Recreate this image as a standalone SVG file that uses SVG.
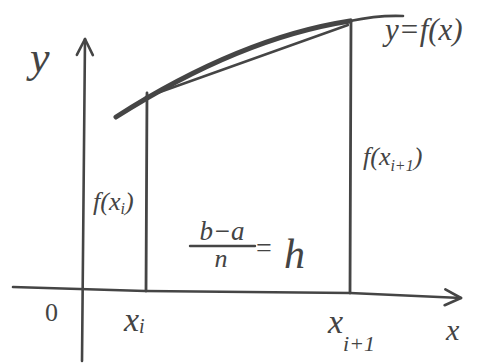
<svg xmlns="http://www.w3.org/2000/svg" width="479" height="363" viewBox="0 0 479 363">
<defs>
<style>
.ln{fill:none;stroke:#454545;stroke-linecap:round;stroke-linejoin:round}
.ax{stroke-width:2.6}
.v{stroke-width:2.8}
.cv{stroke-width:5}
.ch{stroke-width:2.4}
.t{font-family:"Liberation Serif","DejaVu Serif",serif;font-style:italic;fill:#444}
.n{font-family:"Liberation Serif","DejaVu Serif",serif;fill:#444}
</style>
<marker id="arr" viewBox="0 0 20 20" refX="18" refY="10" markerWidth="20" markerHeight="20" markerUnits="userSpaceOnUse" orient="auto">
<path d="M2,2 L18,10 L2,18" fill="none" stroke="#454545" stroke-width="2.6" stroke-linecap="round" stroke-linejoin="round"/>
</marker>
</defs>
<rect width="479" height="363" fill="#ffffff"/>
<g id="axes">
<path class="ln ax" d="M82,361 L85,39" marker-end="url(#arr)"/>
<path class="ln ax" d="M13,287 L145,291 L350,293 L461,298" marker-end="url(#arr)"/>
</g>
<g id="curve">
<path class="ln cv" d="M116,117 Q240,38 350,21"/>
<path class="ln ax" d="M350,21 Q378,15 403,16"/>
<path class="ln ch" d="M146,97 L348,25"/>
</g>
<g id="ordinates">
<path class="ln v" d="M147,93 L146,291"/>
<path class="ln v" d="M351,20 L350,293"/>
</g>
<g id="labels">
<text class="t" x="30" y="72" font-size="44">y</text>
<text class="t" x="385" y="40" font-size="31">y=f(x)</text>
<text class="t" x="363" y="165" font-size="26">f(x<tspan font-size="16" dy="6">i+1</tspan><tspan dy="-6">)</tspan></text>
<text class="t" x="93" y="210" font-size="26">f(x<tspan font-size="16" dy="4">i</tspan><tspan dy="-4">)</tspan></text>
<text class="t" x="222" y="240" font-size="27" text-anchor="middle">b−a</text>
<path class="ln ch" d="M190,246 L255,246"/>
<text class="t" x="221" y="267" font-size="26" text-anchor="middle">n</text>
<text class="n" x="256" y="257" font-size="28">=</text>
<text class="t" x="284" y="268" font-size="42">h</text>
<text class="n" x="45" y="321" font-size="26">0</text>
<text class="t" x="124" y="331" font-size="34">x<tspan font-size="20" dy="2">i</tspan></text>
<text class="t" x="328" y="333" font-size="34">x<tspan font-size="22" dy="18">i+1</tspan></text>
<text class="t" x="446" y="340" font-size="30">x</text>
</g>
</svg>
